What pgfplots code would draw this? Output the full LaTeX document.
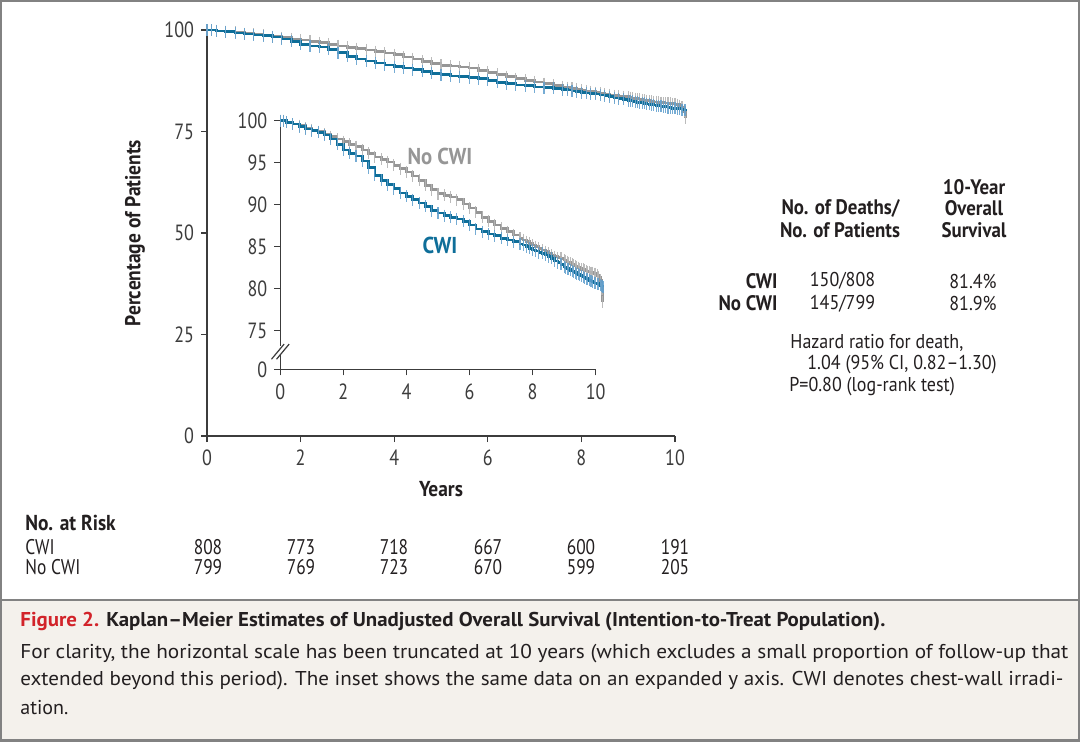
\documentclass[border=0pt]{standalone}
\usepackage{fontspec}
\setmainfont{PT Sans}[FakeStretch=0.9]
\newfontfamily\condfont{PT Sans}[FakeStretch=0.82, Ligatures=TeX]
\usepackage{graphicx}
\usepackage{pgfplots}
\pgfplotsset{compat=1.18}
\usepackage{pgfplotstable}
\definecolor{cwiblue}{RGB}{14,110,153}
\definecolor{cwilight}{RGB}{95,158,205}
\definecolor{nogray}{RGB}{150,150,150}
\definecolor{nolight}{RGB}{180,180,180}
\definecolor{txt}{RGB}{35,31,32}
\definecolor{tickc}{RGB}{60,60,60}
\definecolor{nejmred}{RGB}{210,35,42}
\definecolor{capbg}{RGB}{244,241,236}
\definecolor{framec}{RGB}{130,130,130}

\pgfplotstableread{
x y
0 100
0.1 100
0.2 99.8
0.4 99.6
0.6 99.4
0.8 99.1
1.0 98.9
1.2 98.7
1.4 98.4
1.6 98.1
1.8 97.8
2.0 97.5
2.2 97.2
2.4 96.9
2.6 96.5
2.8 96.1
3.0 95.7
3.2 95.4
3.4 95.1
3.6 94.7
3.8 94.3
4.0 93.9
4.2 93.4
4.4 92.9
4.6 92.3
4.8 91.8
5.0 91.3
5.2 91.1
5.4 90.9
5.6 90.6
5.8 90.1
6.0 89.6
6.2 89.1
6.4 88.5
6.6 88.0
6.8 87.6
7.0 87.2
7.2 86.8
7.4 86.4
7.6 86.0
7.7 85.8
7.8 85.6
7.9 85.4
8.0 85.2
8.1 85.0
8.2 84.8
8.3 84.6
8.4 84.4
8.5 84.2
8.6 84.0
8.7 83.8
8.8 83.7
8.9 83.6
9.0 83.4
9.05 83.3
9.1 83.2
9.15 83.1
9.2 83.0
9.25 82.9
9.3 82.8
9.35 82.7
9.4 82.6
9.45 82.5
9.5 82.4
9.55 82.3
9.6 82.3
9.65 82.2
9.7 82.1
9.75 82.0
9.8 82.0
9.85 81.9
9.9 81.9
9.95 81.8
10.0 81.8
10.05 81.6
10.1 81.4
10.15 81.0
10.2 80.0
10.22 78.4
}\nocwi

\pgfplotstableread{
x y
0 100
0.1 100
0.2 99.8
0.4 99.6
0.6 99.3
0.8 99.0
1.0 98.8
1.2 98.6
1.4 98.3
1.6 97.8
1.8 97.2
2.0 96.5
2.2 96.1
2.4 95.8
2.6 95.2
2.8 94.4
3.0 93.5
3.2 92.9
3.4 92.4
3.6 91.9
3.8 91.4
4.0 91.0
4.2 90.6
4.4 90.2
4.6 89.8
4.8 89.3
5.0 89.0
5.2 88.7
5.4 88.5
5.6 88.3
5.8 88.0
6.0 87.6
6.2 87.1
6.4 86.8
6.6 86.5
6.8 86.3
7.0 86.0
7.2 85.8
7.4 85.6
7.6 85.3
7.7 85.2
7.8 85.0
7.9 84.8
8.0 84.6
8.1 84.5
8.2 84.3
8.3 84.2
8.4 84.0
8.5 83.8
8.6 83.6
8.7 83.3
8.8 83.1
8.9 82.9
9.0 82.6
9.05 82.5
9.1 82.4
9.15 82.3
9.2 82.2
9.25 82.1
9.3 82.0
9.35 81.9
9.4 81.8
9.45 81.7
9.5 81.6
9.55 81.5
9.6 81.4
9.65 81.3
9.7 81.2
9.75 81.1
9.8 81.0
9.85 80.9
9.9 80.8
9.95 80.7
10.0 80.7
10.05 80.6
10.1 80.5
10.15 80.4
10.2 80.3
10.23 80.2
}\cwi

\pgfplotsset{
  kmaxis/.style={
    scale only axis,
    axis x line*=bottom, axis y line*=left,
    axis line style={tickc, line width=0.6pt},
    tick style={tickc, line width=0.6pt},
    tick align=outside, major tick length=3pt,
    xmin=0, xmax=10, xtick={0,2,...,10},
    clip=false,
    /pgf/number format/assume math mode=true,
    tick label style={font=\condfont\fontsize{11}{12}\selectfont, text=tickc},
    xticklabel style={yshift=-0.5pt},
  },
  censorB/.style={only marks, mark=|, mark size=3pt, mark options={line width=0.55pt, cwilight, opacity=0.85}},
  censorG/.style={only marks, mark=|, mark size=3pt, mark options={line width=0.55pt, nolight, opacity=0.9}},
}

\begin{document}
\begin{tikzpicture}[x=1pt,y=1pt]
\useasboundingbox (0,0) rectangle (540,-370.5);
\fill[white] (0,0) rectangle (540,-300);
\fill[capbg] (0,-300) rectangle (540,-370.5);
\draw[framec, line width=1.2pt] (0,-300) -- (540,-300);
\draw[framec, line width=2pt] (0,0) rectangle (540,-370.5);

% main axis
\begin{axis}[kmaxis, at={(103.5pt,-218pt)}, anchor=south west,
  width=234pt, height=203pt,
  ymin=0, ymax=100, ytick={0,25,50,75,100}]
\addplot[censorG] table {\nocwi};
\addplot[nogray, line width=1.3pt, const plot] table {\nocwi};
\addplot[censorB] table {\cwi};
\addplot[cwiblue, line width=1.3pt, const plot] table {\cwi};
\end{axis}

% inset axis
\begin{axis}[kmaxis, at={(140.15pt,-184.65pt)}, anchor=south west,
  width=157.7pt, height=124.3pt,
  ymin=70.4, ymax=100, ytick={70.4,75,80,85,90,95,100},
  yticklabels={0,75,80,85,90,95,100}]
\addplot[censorG] table {\nocwi};
\addplot[nogray, line width=1.3pt, const plot] table {\nocwi};
\addplot[censorB] table {\cwi};
\addplot[cwiblue, line width=1.3pt, const plot] table {\cwi};
\fill[white] (axis cs:-0.2,72.2) rectangle (axis cs:0.2,73.2);
\draw[tickc, line width=0.6pt] (axis cs:-0.28,71.6) -- (axis cs:0.12,73.4);
\draw[tickc, line width=0.6pt] (axis cs:-0.12,71.6) -- (axis cs:0.28,73.4);
\node[font=\bfseries\fontsize{11.5}{13}\selectfont, text=nogray, inner sep=0] at (axis cs:5.06,95.7) {No CWI};
\node[font=\bfseries\fontsize{11.5}{13}\selectfont, text=cwiblue, inner sep=0] at (axis cs:5.06,85.1) {CWI};
\end{axis}

% axis titles
\node[rotate=90, font=\bfseries\fontsize{10.8}{12}\selectfont, text=txt, inner sep=0] at (67.5,-116.5) {Percentage of Patients};
\node[font=\bfseries\fontsize{10.8}{12}\selectfont, text=txt, inner sep=0] at (220.5,-244.5) {Years};

% right table
\begin{scope}[every node/.style={inner sep=0, text=txt, font=\fontsize{10}{11}\selectfont}]
\node[font=\bfseries\fontsize{10.5}{11}\selectfont] at (487,-93.35) {10-Year};
\node[font=\bfseries\fontsize{10.5}{11}\selectfont] at (487,-104.15) {Overall};
\node[font=\bfseries\fontsize{10.5}{11}\selectfont] at (487,-115) {Survival};
\node[font=\bfseries\fontsize{10.5}{11}\selectfont] at (420.25,-104.15) {No. of Deaths/};
\node[font=\bfseries\fontsize{10.5}{11}\selectfont] at (420,-115) {No. of Patients};
\node[font=\bfseries\fontsize{10.5}{11}\selectfont, anchor=east] at (389,-140.5) {CWI};
\node[font=\bfseries\fontsize{10.5}{11}\selectfont, anchor=east] at (389,-151.65) {No CWI};
\node at (421.25,-140.5) {150/808};
\node at (421.25,-151.65) {145/799};
\node at (486.5,-140.5) {81.4\%};
\node at (486.5,-151.65) {81.9\%};
\node[anchor=west] at (395,-171.65) {Hazard ratio for death,};
\node[anchor=west] at (403.5,-182.5) {1.04 (95\% CI, 0.82–1.30)};
\node[anchor=west] at (394.5,-193.35) {P=0.80 (log-rank test)};
\end{scope}

% risk table
\begin{scope}[every node/.style={inner sep=0, text=txt, font=\condfont\fontsize{10.6}{11}\selectfont}]
\node[anchor=west, font=\bfseries\fontsize{10.8}{11}\selectfont] at (12.5,-261.5) {No. at Risk};
\node[anchor=west] at (12.5,-273.5) {CWI};
\node[anchor=west] at (12.5,-283.5) {No CWI};
\node at (104,-273.5) {808};
\node at (150.5,-273.5) {773};
\node at (197,-273.5) {718};
\node at (244,-273.5) {667};
\node at (290.5,-273.5) {600};
\node at (337.5,-273.5) {191};
\node at (104,-283.5) {799};
\node at (150.5,-283.5) {769};
\node at (197,-283.5) {723};
\node at (244,-283.5) {670};
\node at (290.5,-283.5) {599};
\node at (337.5,-283.5) {205};
\end{scope}

% caption
\begin{scope}[every node/.style={inner sep=0, anchor=west, text=txt, font=\condfont\fontsize{10}{12}\selectfont}]
\node at (10,-311) {\resizebox{432.5pt}{\height}{\bfseries\textcolor{nejmred}{Figure 2.} Kaplan–Meier Estimates of Unadjusted Overall Survival (Intention-to-Treat Population).}};
\node at (10,-327) {\resizebox{524pt}{\height}{For clarity, the horizontal scale has been truncated at 10 years (which excludes a small proportion of follow-up that}};
\node at (10,-340.5) {\resizebox{521.5pt}{\height}{extended beyond this period). The inset shows the same data on an expanded y axis. CWI denotes chest-wall irradi-}};
\node at (10,-354) {\resizebox{24pt}{\height}{ation.}};
\end{scope}
\end{tikzpicture}
\end{document}
